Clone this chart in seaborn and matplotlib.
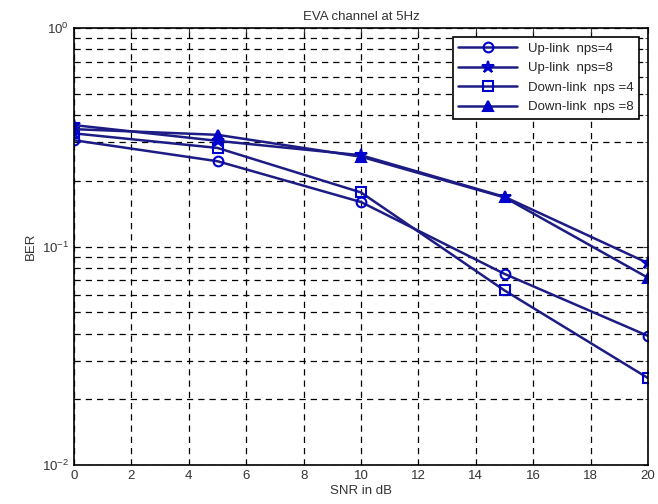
import pandas as pd
import numpy as np
import matplotlib.pyplot as plt
import seaborn as sns

# Datos
snr = [0, 5, 10, 15, 20]
up_nps4 = [0.307, 0.246, 0.160, 0.075, 0.039]
up_nps8 = [0.360, 0.305, 0.262, 0.169, 0.084]
down_nps4 = [0.330, 0.283, 0.177, 0.063, 0.025]
down_nps8 = [0.345, 0.325, 0.258, 0.168, 0.072]

etiquetas = ['Up-link  nps=4', 'Up-link  nps=8', 'Down-link  nps =4', 'Down-link  nps =8']
series = [up_nps4, up_nps8, down_nps4, down_nps8]
marcadores = ['o', '*', 's', '^']

sns.set_style('white')
plt.rcParams['font.family'] = ['Liberation Sans', 'DejaVu Sans']

fig = plt.figure(figsize=(6.58, 5.04), dpi=100)
ax = fig.add_axes([0.1125, 0.0774, 0.8723, 0.8666])

for lab, vals, mk in zip(etiquetas, series, marcadores):
    df = pd.DataFrame({'SNR': snr, 'BER': vals})
    sns.lineplot(data=df, x='SNR', y='BER', ax=ax, label=lab, color='#1c1c84',
                 marker=mk, markersize=7 if mk != '*' else 9, markeredgecolor='#0000cc',
                 markerfacecolor='none' if mk in ('o', 's') else '#0000cc',
                 markeredgewidth=1.5, linewidth=1.8)

ax.set_yscale('log')
ax.set_ylim(1e-2, 1)
ax.set_xlim(0, 20)
ax.set_xticks(range(0, 21, 2))
ax.grid(True, which='both', axis='y', linestyle=(0, (5, 4)), color='black', linewidth=0.9)
ax.grid(True, which='major', axis='x', linestyle=(0, (5, 4)), color='black', linewidth=0.9)
for s in ax.spines.values():
    s.set_color('black')
    s.set_linewidth(1.2)
ax.tick_params(axis='both', which='both', direction='in', labelsize=9.5, colors='#333333')
ax.tick_params(which='both', top=True, right=True)
ax.set_xlabel('SNR in dB', fontsize=9.5, color='#333333', labelpad=2)
ax.set_ylabel('BER', fontsize=9.5, color='#333333')
ax.set_title('EVA channel at 5Hz', fontsize=9.5, color='#333333', pad=6)

leg = ax.legend(loc='upper right', fontsize=9.5, frameon=True, fancybox=False,
                edgecolor='black', framealpha=1, handlelength=4.5,
                borderaxespad=0.7, labelspacing=0.55)
leg.get_frame().set_linewidth(1.2)

fig.savefig('out.png', dpi=100)
